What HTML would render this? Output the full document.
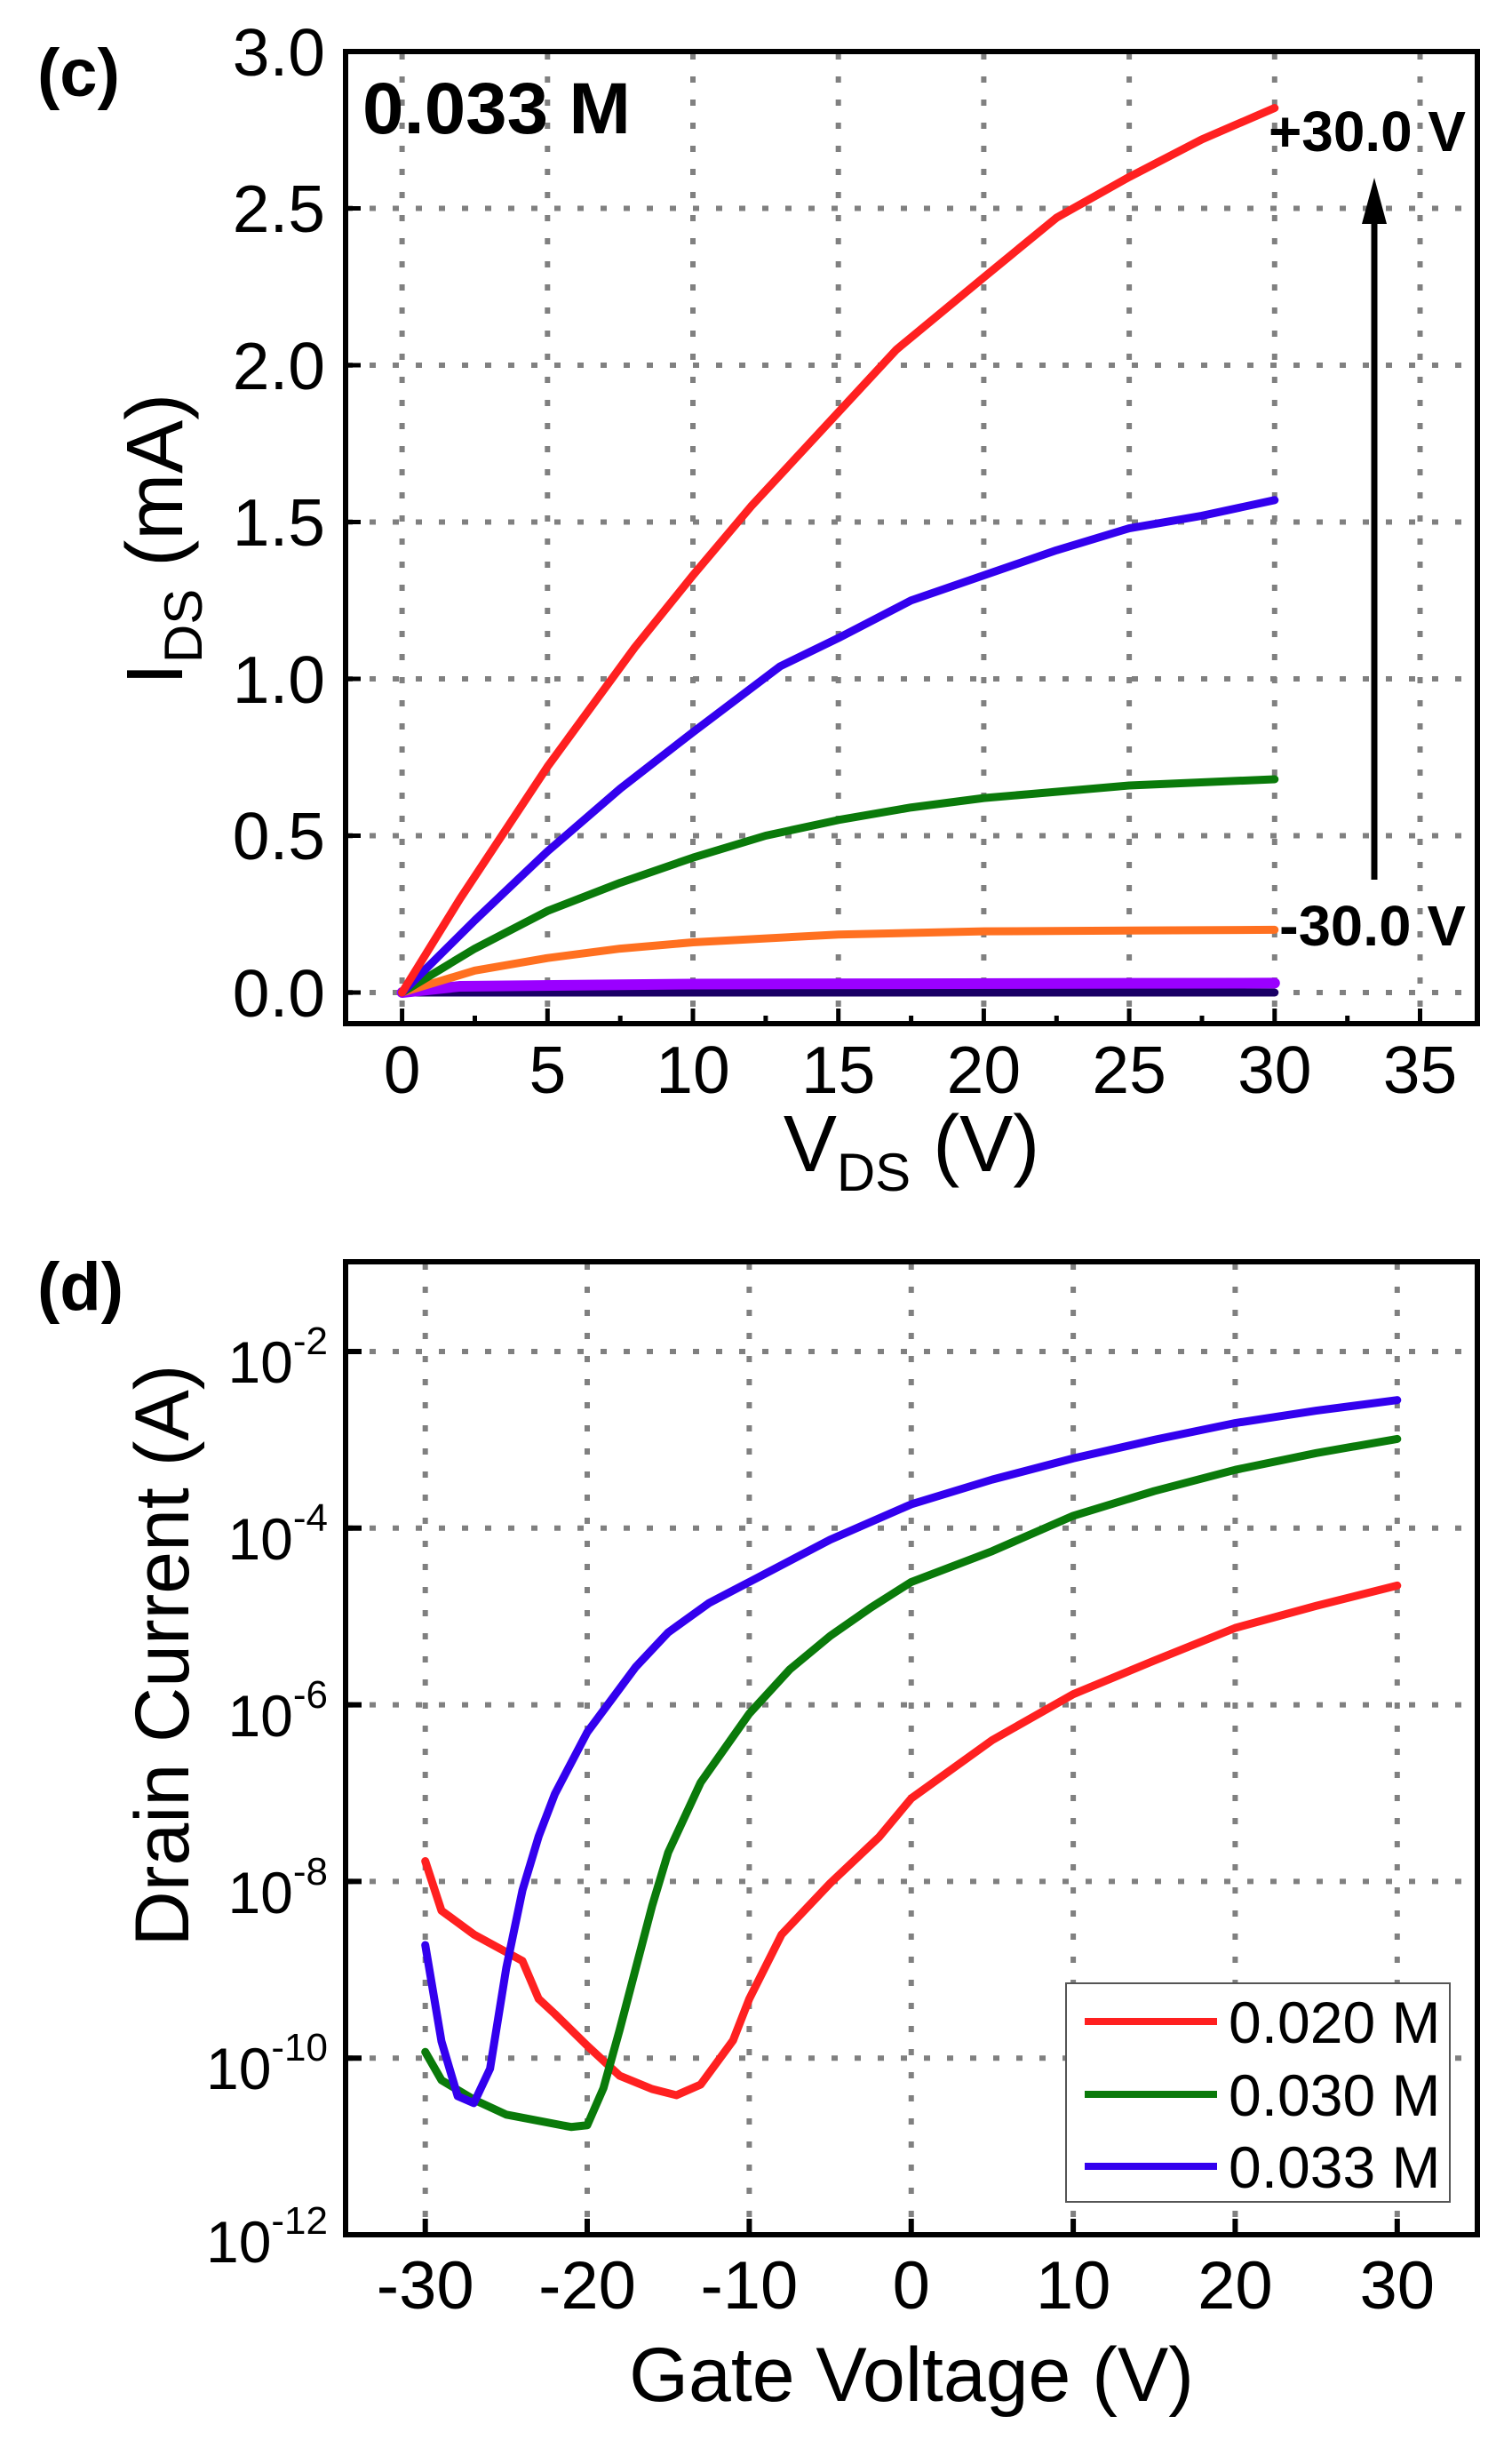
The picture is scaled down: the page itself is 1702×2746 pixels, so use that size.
<!DOCTYPE html>
<html><head><meta charset="utf-8"><style>
html,body{margin:0;padding:0;background:#fff;}
svg{display:block;}
text{font-family:"Liberation Sans",Arial,sans-serif;fill:#000;}
.g{stroke:#808080;stroke-width:6;stroke-dasharray:7 19;fill:none;}
.c{fill:none;stroke-width:9;stroke-linejoin:round;stroke-linecap:round;}
</style></head><body>
<svg width="1702" height="2746" viewBox="0 0 1702 2746" xmlns="http://www.w3.org/2000/svg">
<rect width="1702" height="2746" fill="#fff"/>
<g class="g">
<line x1="452.6" y1="60" x2="452.6" y2="1150"/>
<line x1="616.3" y1="60" x2="616.3" y2="1150"/>
<line x1="780" y1="60" x2="780" y2="1150"/>
<line x1="943.7" y1="60" x2="943.7" y2="1150"/>
<line x1="1107.4" y1="60" x2="1107.4" y2="1150"/>
<line x1="1271.1" y1="60" x2="1271.1" y2="1150"/>
<line x1="1434.8" y1="60" x2="1434.8" y2="1150"/>
<line x1="1598.5" y1="60" x2="1598.5" y2="1150"/>
<line x1="390" y1="1117" x2="1662" y2="1117"/>
<line x1="390" y1="940.5" x2="1662" y2="940.5"/>
<line x1="390" y1="764" x2="1662" y2="764"/>
<line x1="390" y1="587.5" x2="1662" y2="587.5"/>
<line x1="390" y1="411" x2="1662" y2="411"/>
<line x1="390" y1="234.5" x2="1662" y2="234.5"/>
</g>
<g transform="translate(452.6,1117) scale(32.74,-353)">
<polyline class="c" vector-effect="non-scaling-stroke" stroke="#1a0066" points="0,0 30,0"/>
<polyline class="c" vector-effect="non-scaling-stroke" stroke="#9a00ff" style="stroke-width:12" points="0,0 2,0.02 10,0.027 30,0.03"/>
<polyline class="c" vector-effect="non-scaling-stroke" stroke="#ff7020" points="0,0 2.5,0.07 5,0.11 7.5,0.14 10,0.16 15,0.185 20,0.195 30,0.2"/>
<polyline class="c" vector-effect="non-scaling-stroke" stroke="#0a7a0a" points="0,0 2.5,0.14 5,0.26 7.5,0.35 10,0.43 12.5,0.5 15,0.55 17.5,0.59 20,0.62 25,0.66 30,0.68"/>
<polyline class="c" vector-effect="non-scaling-stroke" stroke="#3300ee" points="0,0 2.5,0.23 5,0.45 7.5,0.65 10,0.83 13,1.04 15,1.13 17.5,1.25 20,1.33 22.5,1.41 25,1.48 27.5,1.52 30,1.57"/>
<polyline class="c" vector-effect="non-scaling-stroke" stroke="#ff2020" points="0,0 2,0.3 5,0.72 8,1.1 10,1.33 12,1.55 15,1.85 17,2.05 20,2.28 22.5,2.47 25,2.6 27.5,2.72 30,2.82"/>
</g>
<rect x="389" y="58" width="1274" height="1094" fill="none" stroke="#000" stroke-width="6"/>
<g stroke="#000" stroke-width="5">
<line x1="452.6" y1="1152" x2="452.6" y2="1135"/><line x1="616.3" y1="1152" x2="616.3" y2="1135"/><line x1="780" y1="1152" x2="780" y2="1135"/><line x1="943.7" y1="1152" x2="943.7" y2="1135"/><line x1="1107.4" y1="1152" x2="1107.4" y2="1135"/><line x1="1271.1" y1="1152" x2="1271.1" y2="1135"/><line x1="1434.8" y1="1152" x2="1434.8" y2="1135"/><line x1="1598.5" y1="1152" x2="1598.5" y2="1135"/>
<line x1="534.5" y1="1152" x2="534.5" y2="1143"/><line x1="698.2" y1="1152" x2="698.2" y2="1143"/><line x1="861.9" y1="1152" x2="861.9" y2="1143"/><line x1="1025.6" y1="1152" x2="1025.6" y2="1143"/><line x1="1189.3" y1="1152" x2="1189.3" y2="1143"/><line x1="1353" y1="1152" x2="1353" y2="1143"/><line x1="1516.7" y1="1152" x2="1516.7" y2="1143"/>
<line x1="389" y1="1117" x2="406" y2="1117"/><line x1="389" y1="940.5" x2="406" y2="940.5"/><line x1="389" y1="764" x2="406" y2="764"/><line x1="389" y1="587.5" x2="406" y2="587.5"/><line x1="389" y1="411" x2="406" y2="411"/><line x1="389" y1="234.5" x2="406" y2="234.5"/>
</g>
<g font-size="75" text-anchor="end">
<text x="366" y="85">3.0</text><text x="366" y="261">2.5</text><text x="366" y="438">2.0</text><text x="366" y="614">1.5</text><text x="366" y="791">1.0</text><text x="366" y="967">0.5</text><text x="366" y="1144">0.0</text>
</g>
<g font-size="75" text-anchor="middle">
<text x="452.6" y="1230">0</text><text x="616.3" y="1230">5</text><text x="780" y="1230">10</text><text x="943.7" y="1230">15</text><text x="1107.4" y="1230">20</text><text x="1271.1" y="1230">25</text><text x="1434.8" y="1230">30</text><text x="1598.5" y="1230">35</text>
</g>
<text x="1026" y="1318" font-size="90" text-anchor="middle">V<tspan font-size="60" dy="22">DS</tspan><tspan dy="-22"> (V)</tspan></text>
<text transform="translate(205,607) rotate(-90)" font-size="90" text-anchor="middle">I<tspan font-size="60" dy="22">DS</tspan><tspan dy="-22"> (mA)</tspan></text>
<text x="408" y="150" font-size="82" font-weight="bold" textLength="302" lengthAdjust="spacingAndGlyphs">0.033 M</text>
<text x="42" y="108" font-size="76" font-weight="bold">(c)</text>
<text x="1428" y="170" font-size="64" font-weight="bold" textLength="222" lengthAdjust="spacingAndGlyphs">+30.0 V</text>
<text x="1440" y="1064" font-size="64" font-weight="bold" textLength="210" lengthAdjust="spacingAndGlyphs">-30.0 V</text>
<line x1="1547" y1="990" x2="1547" y2="240" stroke="#000" stroke-width="7"/>
<polygon points="1547,200 1533,252 1561,252" fill="#000"/>

<g class="g">
<line x1="478.7" y1="1422" x2="478.7" y2="2513"/>
<line x1="661" y1="1422" x2="661" y2="2513"/>
<line x1="843.4" y1="1422" x2="843.4" y2="2513"/>
<line x1="1025.75" y1="1422" x2="1025.75" y2="2513"/>
<line x1="1208.1" y1="1422" x2="1208.1" y2="2513"/>
<line x1="1390.4" y1="1422" x2="1390.4" y2="2513"/>
<line x1="1572.8" y1="1422" x2="1572.8" y2="2513"/>
<line x1="390" y1="1521" x2="1662" y2="1521"/>
<line x1="390" y1="1719.8" x2="1662" y2="1719.8"/>
<line x1="390" y1="1918.6" x2="1662" y2="1918.6"/>
<line x1="390" y1="2117.4" x2="1662" y2="2117.4"/>
<line x1="390" y1="2316.2" x2="1662" y2="2316.2"/>
</g>
<g transform="translate(1025.75,1322.2) scale(18.235,-99.4)">
<polyline class="c" vector-effect="non-scaling-stroke" stroke="#ff2020" points="-30,-7.77 -29,-8.33 -27,-8.6 -24,-8.9 -23,-9.33 -22,-9.5 -20,-9.86 -18,-10.2 -16,-10.35 -14.5,-10.42 -13,-10.3 -11,-9.8 -10,-9.33 -8,-8.6 -5,-8.02 -2,-7.5 0,-7.06 5,-6.4 10,-5.88 15,-5.5 20,-5.13 25,-4.88 30,-4.65"/>
<polyline class="c" vector-effect="non-scaling-stroke" stroke="#0a7a0a" points="-30,-9.93 -29,-10.25 -27,-10.47 -25,-10.64 -21,-10.78 -20,-10.76 -19,-10.34 -18,-9.68 -16,-8.28 -15,-7.67 -13,-6.88 -11,-6.36 -10,-6.1 -7.5,-5.6 -5,-5.22 -2.5,-4.9 0,-4.61 5,-4.26 10,-3.86 15,-3.58 20,-3.34 25,-3.15 30,-2.99"/>
<polyline class="c" vector-effect="non-scaling-stroke" stroke="#3300ee" points="-30,-8.72 -29,-9.81 -28,-10.43 -27,-10.51 -26,-10.12 -25,-8.98 -24,-8.1 -23,-7.49 -22,-7.01 -20,-6.31 -17,-5.57 -15,-5.18 -12.5,-4.85 -10,-4.61 -5,-4.13 0,-3.73 5,-3.45 10,-3.21 15,-3.0 20,-2.81 25,-2.67 30,-2.55"/>
</g>
<rect x="389" y="1420" width="1274" height="1095" fill="none" stroke="#000" stroke-width="6"/>
<g stroke="#000" stroke-width="6">
<line x1="478.7" y1="2515" x2="478.7" y2="2497"/><line x1="661" y1="2515" x2="661" y2="2497"/><line x1="843.4" y1="2515" x2="843.4" y2="2497"/><line x1="1025.75" y1="2515" x2="1025.75" y2="2497"/><line x1="1208.1" y1="2515" x2="1208.1" y2="2497"/><line x1="1390.4" y1="2515" x2="1390.4" y2="2497"/><line x1="1572.8" y1="2515" x2="1572.8" y2="2497"/>
<line x1="389" y1="1521" x2="407" y2="1521"/><line x1="389" y1="1719.8" x2="407" y2="1719.8"/><line x1="389" y1="1918.6" x2="407" y2="1918.6"/><line x1="389" y1="2117.4" x2="407" y2="2117.4"/><line x1="389" y1="2316.2" x2="407" y2="2316.2"/>
</g>
<g font-size="66" text-anchor="end">
<text x="369" y="1556">10<tspan font-size="44" dy="-32">-2</tspan></text>
<text x="369" y="1755">10<tspan font-size="44" dy="-32">-4</tspan></text>
<text x="369" y="1954">10<tspan font-size="44" dy="-32">-6</tspan></text>
<text x="369" y="2153">10<tspan font-size="44" dy="-32">-8</tspan></text>
<text x="369" y="2351">10<tspan font-size="44" dy="-32">-10</tspan></text>
<text x="369" y="2546">10<tspan font-size="44" dy="-32">-12</tspan></text>
</g>
<g font-size="76" text-anchor="middle">
<text x="478.7" y="2598">-30</text><text x="661" y="2598">-20</text><text x="843.4" y="2598">-10</text><text x="1025.75" y="2598">0</text><text x="1208.1" y="2598">10</text><text x="1390.4" y="2598">20</text><text x="1572.8" y="2598">30</text>
</g>
<text x="1026" y="2702" font-size="86" text-anchor="middle">Gate Voltage (V)</text>
<text transform="translate(212,1863) rotate(-90)" font-size="86" text-anchor="middle">Drain Current (A)</text>
<text x="42" y="1474" font-size="76" font-weight="bold">(d)</text>
<rect x="1200" y="2232" width="432" height="246" fill="#fff" stroke="#555" stroke-width="2"/>
<line x1="1221" y1="2275" x2="1370" y2="2275" stroke="#ff2020" stroke-width="8"/>
<line x1="1221" y1="2357" x2="1370" y2="2357" stroke="#0a7a0a" stroke-width="8"/>
<line x1="1221" y1="2438" x2="1370" y2="2438" stroke="#3300ee" stroke-width="8"/>
<g font-size="66">
<text x="1383" y="2299">0.020 M</text>
<text x="1383" y="2381">0.030 M</text>
<text x="1383" y="2462">0.033 M</text>
</g>
</svg>
</body></html>
